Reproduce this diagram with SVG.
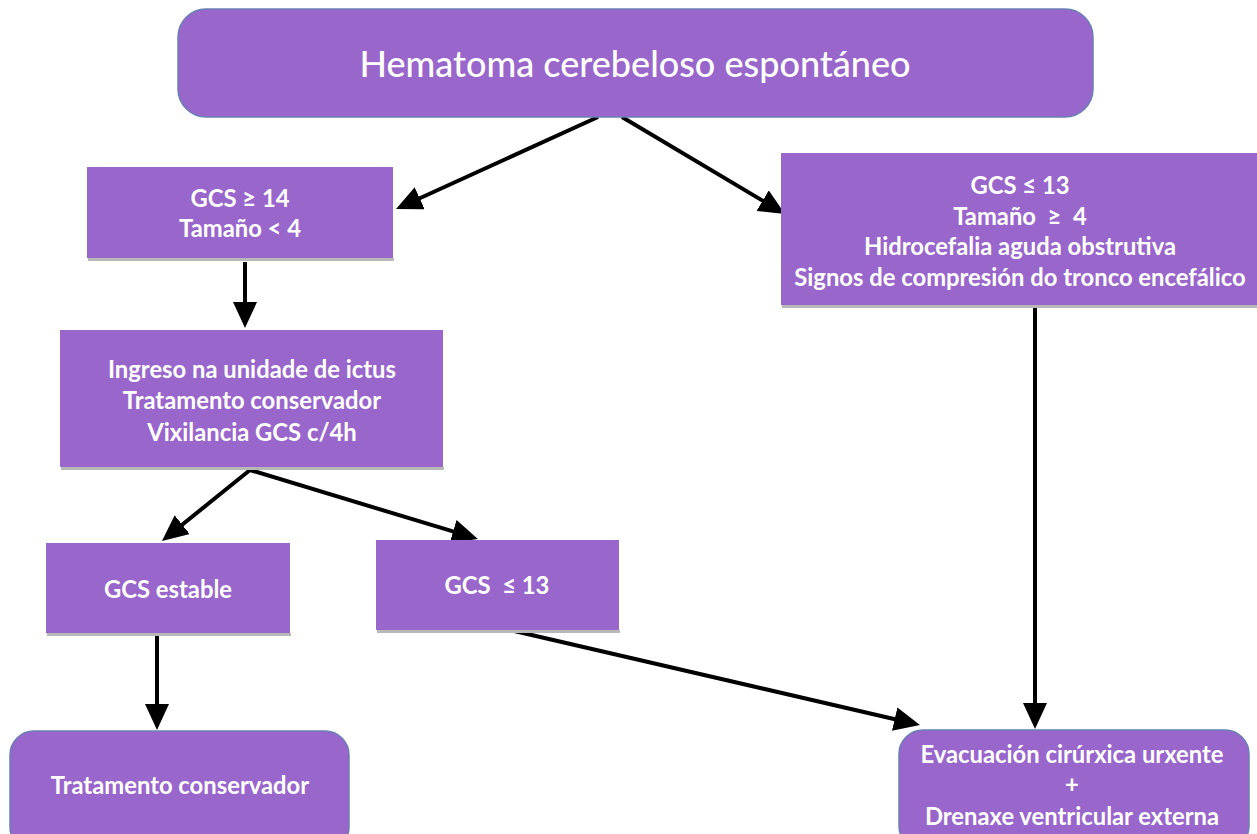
<svg xmlns="http://www.w3.org/2000/svg" width="1257" height="834" viewBox="0 0 1257 834">
<style>
.box{fill:#9966cc;}
.rbox{fill:#9966cc;stroke:#6a7fb4;stroke-width:1.5;}
.sh{fill:#b8b8b8;}
.t{font-family:Lato,"Open Sans",sans-serif;font-weight:bold;font-size:23.8px;fill:#ffffff;text-anchor:middle;white-space:pre;}
.title{font-family:Lato,"Open Sans",sans-serif;font-weight:500;font-size:36px;fill:#ffffff;text-anchor:middle;}
.c{stroke:#000;stroke-width:4;fill:none;marker-end:url(#ah);}
</style>
<defs>
<marker id="ah" markerWidth="6.5" markerHeight="6" refX="4.5" refY="3" orient="auto" markerUnits="strokeWidth">
<path d="M0,0 L6.5,3 L0,6 Z" fill="#000"/>
</marker>
</defs>
<rect width="1257" height="834" fill="#fff"/>
<g id="connectors">
<line class="c" x1="598" y1="117" x2="403.3" y2="205.7"/>
<line class="c" x1="622" y1="117" x2="778.1" y2="209.9"/>
<line class="c" x1="245" y1="262" x2="245" y2="320"/>
<line class="c" x1="1035" y1="302" x2="1035" y2="721"/>
<line class="c" x1="250" y1="470" x2="168.2" y2="536"/>
<line class="c" x1="250" y1="470" x2="470.3" y2="536.7"/>
<line class="c" x1="157" y1="635" x2="157" y2="722"/>
<line class="c" x1="510" y1="630" x2="912.2" y2="723.2"/>
</g>
<g id="n1">
<rect class="rbox" x="178" y="9" width="915" height="108" rx="28"/>
<text class="title" x="635" y="77">Hematoma cerebeloso espontáneo</text>
</g>
<g id="n2">
<rect class="sh" x="88" y="258" width="306" height="3"/>
<rect class="box" x="87" y="167" width="306" height="91"/>
<text class="t" x="240" y="207">GCS ≥ 14</text>
<text class="t" x="240" y="237">Tamaño &lt; 4</text>
</g>
<g id="n3">
<rect class="sh" x="782" y="305" width="475" height="3"/>
<rect class="box" x="781" y="153" width="476" height="152"/>
<text class="t" x="1020" y="194">GCS ≤ 13</text>
<text class="t" x="1020" y="225" xml:space="preserve">Tamaño  ≥  4</text>
<text class="t" x="1020" y="255">Hidrocefalia aguda obstrutiva</text>
<text class="t" x="1020" y="286">Signos de compresión do tronco encefálico</text>
</g>
<g id="n4">
<rect class="sh" x="61" y="467" width="383" height="3"/>
<rect class="box" x="60" y="330" width="383" height="137"/>
<text class="t" x="252" y="378">Ingreso na unidade de ictus</text>
<text class="t" x="252" y="409">Tratamento conservador</text>
<text class="t" x="252" y="441">Vixilancia GCS c/4h</text>
</g>
<g id="n5">
<rect class="sh" x="47" y="633" width="244" height="3"/>
<rect class="box" x="46" y="543" width="244" height="90"/>
<text class="t" x="168" y="598">GCS estable</text>
</g>
<g id="n6">
<rect class="sh" x="377" y="630" width="243" height="3"/>
<rect class="box" x="376" y="540" width="243" height="90"/>
<text class="t" x="497" y="594" xml:space="preserve">GCS  ≤ 13</text>
</g>
<g id="n7">
<rect class="rbox" x="10" y="731" width="339" height="120" rx="24"/>
<text class="t" x="180" y="794">Tratamento conservador</text>
</g>
<g id="n8">
<rect class="rbox" x="899" y="730" width="350" height="120" rx="24"/>
<text class="t" x="1072" y="763">Evacuación cirúrxica urxente</text>
<text class="t" x="1072" y="793">+</text>
<text class="t" x="1072" y="825">Drenaxe ventricular externa</text>
</g>
</svg>
